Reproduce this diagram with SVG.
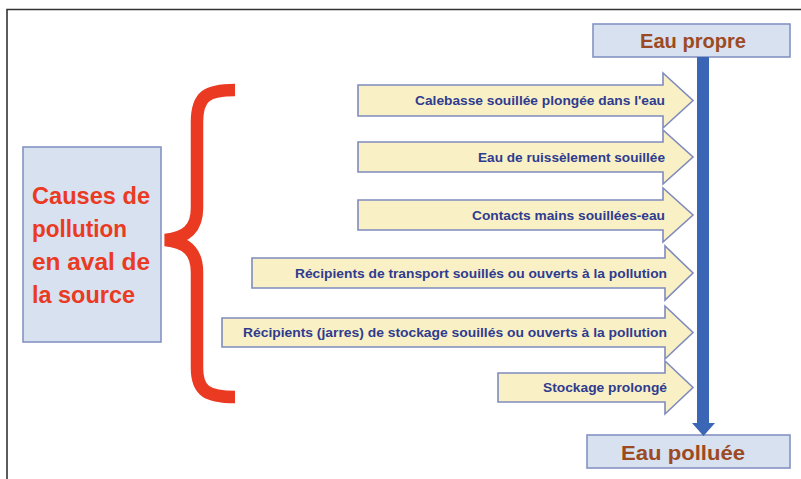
<svg xmlns="http://www.w3.org/2000/svg" width="801" height="479" viewBox="0 0 801 479">
<style>
.arrow{fill:#faf0c6;stroke:#7f8bbd;stroke-width:1.6;stroke-linejoin:miter}
.lbl{font-family:"Liberation Sans",Arial,sans-serif;font-weight:bold;font-size:12px;fill:#2e3c8f;text-anchor:end}
.box{fill:#d7e1ef;stroke:#8593c4;stroke-width:1.6}
.title{font-family:"Liberation Sans",Arial,sans-serif;font-weight:bold;font-size:21px;fill:#9c4a24;text-anchor:middle}
.red{font-family:"Liberation Sans",Arial,sans-serif;font-weight:bold;font-size:24px;fill:#ea3a22}
</style>
<rect width="801" height="479" fill="#ffffff"/>
<path d="M7,479 V9.5 H801" fill="none" stroke="#333333" stroke-width="1.6"/>

<g id="causes">
<rect class="box" x="23" y="147" width="138" height="195"/>
<text class="red" x="32" y="204" textLength="118" lengthAdjust="spacingAndGlyphs">Causes de</text>
<text class="red" x="32" y="237" textLength="95" lengthAdjust="spacingAndGlyphs">pollution</text>
<text class="red" x="32" y="270" textLength="118" lengthAdjust="spacingAndGlyphs">en aval de</text>
<text class="red" x="32" y="303" textLength="103" lengthAdjust="spacingAndGlyphs">la source</text>
</g>

<g id="brace">
<path d="M235,90 C207,90 197,96 197,122 V208 C197,229 186,238 165,240 C186,242 197,251 197,272 V368 C197,391 207,397 235,397" fill="none" stroke="#ea3a22" stroke-width="12.5"/>
</g>

<g id="eau-propre">
<rect class="box" x="593" y="24" width="197" height="33"/>
<text class="title" x="693" y="48" textLength="106" lengthAdjust="spacingAndGlyphs">Eau propre</text>
</g>

<g id="eau-polluee">
<rect class="box" x="587" y="435" width="203" height="33"/>
<text class="title" x="683" y="460" textLength="124" lengthAdjust="spacingAndGlyphs">Eau polluée</text>
</g>

<g id="connectors">
<path d="M697,57 H709 V423 H715 L703.5,436 L692,423 H697 Z" fill="#3b66b5"/>
</g>

<g id="a1">
<path class="arrow" d="M358,85 H663 V73 L693,100.5 L663,128 V116 H358 Z"/>
<text class="lbl" x="665" y="105" textLength="250" lengthAdjust="spacingAndGlyphs">Calebasse souillée plongée dans l'eau</text>
</g>
<g id="a2">
<path class="arrow" d="M358,142 H663 V130 L693,157 L663,184 V172 H358 Z"/>
<text class="lbl" x="665" y="161.5" textLength="187" lengthAdjust="spacingAndGlyphs">Eau de ruissèlement souillée</text>
</g>
<g id="a3">
<path class="arrow" d="M358,200 H663 V188 L693,215 L663,242 V230 H358 Z"/>
<text class="lbl" x="665" y="219.5" textLength="193" lengthAdjust="spacingAndGlyphs">Contacts mains souillées-eau</text>
</g>
<g id="a4">
<path class="arrow" d="M252,258 H665 V246 L693,273 L665,300 V288 H252 Z"/>
<text class="lbl" x="667" y="277.5" textLength="372" lengthAdjust="spacingAndGlyphs">Récipients de transport souillés ou ouverts à la pollution</text>
</g>
<g id="a5">
<path class="arrow" d="M222,318 H665 V306 L693,332.5 L665,359 V347 H222 Z"/>
<text class="lbl" x="667" y="337" textLength="424" lengthAdjust="spacingAndGlyphs">Récipients (jarres) de stockage souillés ou ouverts à la pollution</text>
</g>
<g id="a6">
<path class="arrow" d="M498,373 H665 V361 L693,387.5 L665,414 V402 H498 Z"/>
<text class="lbl" x="667" y="392" textLength="124" lengthAdjust="spacingAndGlyphs">Stockage prolongé</text>
</g>
</svg>
